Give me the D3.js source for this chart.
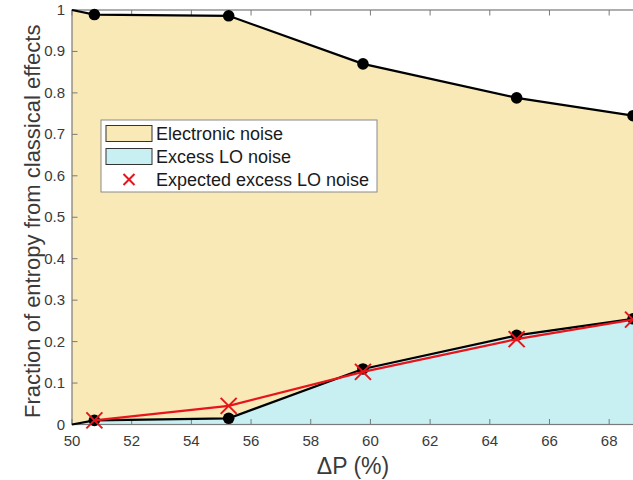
<!DOCTYPE html>
<html>
<head>
<meta charset="utf-8">
<script src="https://cdn.jsdelivr.net/npm/d3@7"></script>
<style>
  html, body { margin: 0; padding: 0; background: #fff; }
  svg { display: block; font-family: "Liberation Sans", Arial, sans-serif; }
</style>
</head>
<body>
<svg id="chart" width="633" height="480"></svg>
<script>
// Power imbalance ΔP (%) at each measurement; the first entry anchors the areas at the axis origin.
const deltaP = [50, 50.75, 55.25, 59.75, 64.9, 68.8];
// Cumulative fractions of entropy attributed to classical effects.
const totalClassical = [1, 0.989, 0.986, 0.870, 0.788, 0.745];   // electronic + excess LO
const excessLO       = [0, 0.010, 0.015, 0.134, 0.215, 0.255];
// Expected excess LO noise at each measured point.
const expectedX      = [50.75, 55.25, 59.75, 64.9, 68.8];
const expectedLO     = [0.010, 0.045, 0.127, 0.206, 0.253];

const xTicks = [50, 52, 54, 56, 58, 60, 62, 64, 66, 68];
const yTicks = [0, 0.1, 0.2, 0.3, 0.4, 0.5, 0.6, 0.7, 0.8, 0.9, 1];

const legendItems = [
  { label: "Electronic noise", kind: "patch", fill: "#f9e9b6" },
  { label: "Excess LO noise", kind: "patch", fill: "#c8f0f2" },
  { label: "Expected excess LO noise", kind: "cross", color: "#e8141b" }
];

const svg = d3.select("#chart");
const plotL = 72, plotR = 639, plotT = 10, plotB = 424.5;
const axisColor = "#7a7a7a";
const textColor = "#3a3a3a";

const x = d3.scaleLinear().domain([50, 69]).range([plotL, plotR]);
const y = d3.scaleLinear().domain([0, 1]).range([plotB, plotT]);

const rows = deltaP.map((d, i) => ({ x: d, lo: excessLO[i], tot: totalClassical[i] }));

// Stacked areas
svg.append("path")
  .datum(rows)
  .attr("fill", "#f9e9b6")
  .attr("d", d3.area().x(d => x(d.x)).y0(d => y(d.lo)).y1(d => y(d.tot)));
svg.append("path")
  .datum(rows)
  .attr("fill", "#c8f0f2")
  .attr("d", d3.area().x(d => x(d.x)).y0(y(0)).y1(d => y(d.lo)));

// Axes box with inward ticks
const g = svg.append("g");
const tickLen = 5.5;
g.append("rect")
  .attr("x", plotL).attr("y", plotT)
  .attr("width", plotR - plotL).attr("height", plotB - plotT)
  .attr("fill", "none").attr("stroke", axisColor).attr("stroke-width", 1.2);

xTicks.forEach(t => {
  g.append("line").attr("x1", x(t)).attr("x2", x(t)).attr("y1", plotB).attr("y2", plotB - tickLen)
    .attr("stroke", axisColor);
  g.append("line").attr("x1", x(t)).attr("x2", x(t)).attr("y1", plotT).attr("y2", plotT + tickLen)
    .attr("stroke", axisColor);
  g.append("text").attr("x", x(t)).attr("y", plotB + 21)
    .attr("text-anchor", "middle").attr("font-size", 15).attr("fill", textColor)
    .text(d3.format("d")(t));
});
yTicks.forEach(t => {
  g.append("line").attr("x1", plotL).attr("x2", plotL + tickLen).attr("y1", y(t)).attr("y2", y(t))
    .attr("stroke", axisColor);
  g.append("line").attr("x1", plotR).attr("x2", plotR - tickLen).attr("y1", y(t)).attr("y2", y(t))
    .attr("stroke", axisColor);
  g.append("text").attr("x", plotL - 7).attr("y", y(t) + 5)
    .attr("text-anchor", "end").attr("font-size", 15).attr("fill", textColor)
    .text(t === 0 || t === 1 ? d3.format("d")(t) : d3.format(".1f")(t));
});

// Boundary lines
const line = d3.line().x(d => d[0]).y(d => d[1]);
svg.append("path")
  .attr("d", line(rows.map(d => [x(d.x), y(d.tot)])))
  .attr("fill", "none").attr("stroke", "#000").attr("stroke-width", 2.2);
svg.append("path")
  .attr("d", line(rows.map(d => [x(d.x), y(d.lo)])))
  .attr("fill", "none").attr("stroke", "#000").attr("stroke-width", 2.2);

// Markers at measured points
const measured = rows.slice(1);
svg.selectAll("circle.tot").data(measured).join("circle")
  .attr("class", "tot")
  .attr("cx", d => x(d.x)).attr("cy", d => y(d.tot)).attr("r", 5.8).attr("fill", "#000");
svg.selectAll("circle.lo").data(measured).join("circle")
  .attr("class", "lo")
  .attr("cx", d => x(d.x)).attr("cy", d => y(d.lo)).attr("r", 5.8).attr("fill", "#000");

// Expected excess LO noise
const red = "#e8141b";
const expected = expectedX.map((d, i) => [x(d), y(expectedLO[i])]);
svg.append("path").attr("d", line(expected))
  .attr("fill", "none").attr("stroke", red).attr("stroke-width", 2.2);
const cross = (sel, cx, cy, s) => {
  sel.append("path")
    .attr("d", `M${cx - s},${cy - s}L${cx + s},${cy + s}M${cx - s},${cy + s}L${cx + s},${cy - s}`)
    .attr("stroke", red).attr("stroke-width", 2).attr("fill", "none");
};
expected.forEach(p => cross(svg, p[0], p[1], 8));

// Axis titles
svg.append("text")
  .attr("transform", `translate(40,${(plotT + plotB) / 2 + 4}) rotate(-90)`)
  .attr("text-anchor", "middle").attr("font-size", 22).attr("fill", textColor)
  .text("Fraction of entropy from classical effects");
svg.append("text")
  .attr("x", 353).attr("y", 474)
  .attr("text-anchor", "middle").attr("font-size", 23).attr("fill", textColor)
  .text("ΔP (%)");

// Legend
const lg = svg.append("g");
lg.append("rect").attr("x", 101).attr("y", 120).attr("width", 276).attr("height", 72)
  .attr("fill", "#fff").attr("stroke", "#8a8a8a").attr("stroke-width", 1);
legendItems.forEach((it, i) => {
  const cy = 133.5 + i * 23;
  if (it.kind === "patch") {
    lg.append("rect").attr("x", 106).attr("y", cy - 8).attr("width", 46).attr("height", 16)
      .attr("fill", it.fill).attr("stroke", "#333").attr("stroke-width", 1);
  } else {
    cross(lg, 129, cy, 5.5);
  }
  lg.append("text").attr("x", 156).attr("y", cy + 6.5)
    .attr("font-size", 18).attr("fill", "#1a1a1a").text(it.label);
});
</script>
</body>
</html>
